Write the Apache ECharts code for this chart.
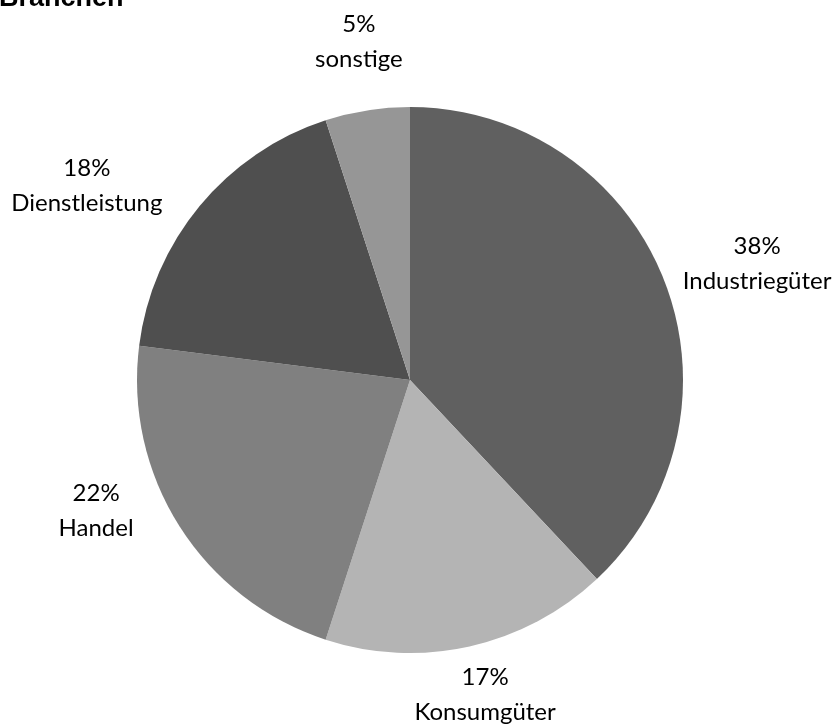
<!DOCTYPE html>
<html>
<head>
<meta charset="utf-8">
<script src="https://cdn.jsdelivr.net/npm/echarts@6/dist/echarts.min.js"></script>
<style>
  html, body { margin: 0; padding: 0; background: #ffffff; }
  #chart { width: 838px; height: 724px; }
</style>
</head>
<body>
<div id="chart"></div>
<script>
// Share of companies by sector (percent), clockwise from 12 o'clock
const categories = ['Industriegüter', 'Konsumgüter', 'Handel', 'Dienstleistung', 'sonstige'];
const shares = [38, 17, 22, 18, 5];
const sliceColors = ['#606060', '#b4b4b4', '#808080', '#4f4f4f', '#969696'];

// Label anchor per slice: [angle in degrees clockwise from top, distance from pie centre]
const labelPlacement = [[71.5, 366], [166.6, 324], [247.4, 340], [301, 377], [351.4, 342]];

const CX = 410, CY = 380, R = 273;

const chart = echarts.init(document.getElementById('chart'), null, { renderer: 'canvas' });

chart.setOption({
  backgroundColor: '#ffffff',
  animation: false,
  title: {
    text: 'Branchen',
    left: -1,
    top: -15,
    padding: 0,
    textStyle: {
      fontFamily: 'Liberation Sans, Arial, sans-serif',
      fontSize: 27,
      fontWeight: 'bold',
      color: '#000000'
    }
  },
  series: [{
    type: 'pie',
    center: [CX, CY],
    radius: [0, R],
    startAngle: 90,
    clockwise: true,
    avoidLabelOverlap: false,
    data: categories.map((name, i) => ({
      name,
      value: shares[i],
      itemStyle: { color: sliceColors[i] }
    })),
    itemStyle: { borderWidth: 0 },
    label: {
      show: true,
      position: 'outside',
      formatter: '{c}%\n{b}',
      fontFamily: 'Lato, "Noto Sans", sans-serif',
      fontSize: 24,
      lineHeight: 35,
      color: '#000000',
      align: 'center'
    },
    labelLine: { show: false },
    labelLayout: function (params) {
      const p = labelPlacement[params.dataIndex];
      const a = p[0] * Math.PI / 180;
      return {
        x: CX + p[1] * Math.sin(a),
        y: CY - p[1] * Math.cos(a),
        align: 'center',
        verticalAlign: 'middle'
      };
    },
    emphasis: { disabled: true }
  }]
});
</script>
</body>
</html>
